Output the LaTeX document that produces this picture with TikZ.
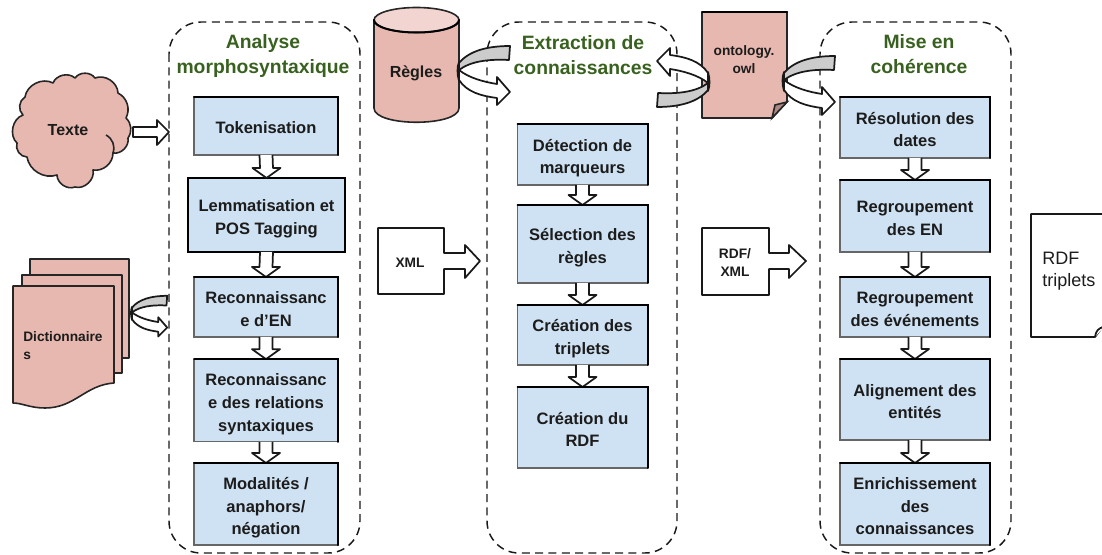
\documentclass[tikz,border=0pt]{standalone}
\usepackage{fontspec}
\setmainfont{Liberation Sans}
\usetikzlibrary{calc}
\definecolor{boxblue}{HTML}{CFE2F3}
\definecolor{boxpink}{HTML}{E6B8AF}
\definecolor{toppink}{HTML}{F2D5D0}
\definecolor{bandgray}{HTML}{CCCCCC}
\definecolor{titlegreen}{HTML}{38611F}
\definecolor{inkdark}{HTML}{1C1C1C}
\tikzset{
  bluebox/.style={draw=black!60,line width=0.9pt,fill=boxblue,align=center,font=\fontsize{12.4}{17}\selectfont\bfseries,text=inkdark,inner sep=0pt,outer sep=0pt,text depth=0pt},
  oneline/.style={text height=12pt},
  twolines/.style={text height=29pt},
  threelines/.style={text height=46pt},
  heavy/.style={line width=1.5pt,black,line cap=round},
  container/.style={draw=black!90,line width=1.1pt,dash pattern=on 6pt off 4pt,rounded corners=24pt},
  blockarrow/.style={draw=black!90,line width=1.3pt,fill=white,line join=round},
  titletext/.style={align=center,font=\fontsize{14.5}{18.8}\selectfont\bfseries,text=titlegreen,inner sep=0pt},
  pinkshape/.style={draw=black!85,line width=1.2pt,fill=boxpink,line join=round},
  whiteshape/.style={draw=black!90,line width=1.3pt,fill=white,line join=round},
  bandshape/.style={draw=black!90,line width=1.3pt,fill=bandgray,line join=round},
  smalltext/.style={align=center,font=\fontsize{10.3}{13.5}\selectfont\bfseries,text=inkdark,inner sep=0pt},
  midtext/.style={align=center,font=\fontsize{12}{15}\selectfont\bfseries,text=inkdark,inner sep=0pt},
}
\newcommand\blockdown[2]{%
  \draw[blockarrow] ($(#1.south)+(-6.5,0)$) -- ($(#2.north)+(-6.5,-10)$) -- ($(#2.north)+(-14,-10)$) -- (#2.north)
    -- ($(#2.north)+(14,-10)$) -- ($(#2.north)+(6.5,-10)$) -- ($(#1.south)+(6.5,0)$);}
% anchor coordinate, xscale, yscale
\newcommand\bentarrow[3]{%
  \begin{scope}[shift={(#1)},xscale=#2,yscale=#3]
    \draw[bandshape] (0,-5) .. controls (10,-17) and (28,-22) .. (51,-22) -- (50,-8) .. controls (30,-9) and (12,-7) .. (0,2) -- cycle;
    \draw[whiteshape] (0,2) .. controls (10,10) and (25,14) .. (38,16) -- (38,9) -- (51,24) -- (38,37) -- (38,30)
      .. controls (22,28) and (8,24) .. (0,12) -- cycle;
    \draw[draw=black!90,line width=1.3pt,line cap=round] (0,-6) .. controls (-2,-1) and (-2,6) .. (0,13);
  \end{scope}}
\newcommand\heavytr[1]{\draw[heavy] (#1.north west) -- (#1.north east) -- (#1.south east);}
\begin{document}
\begin{tikzpicture}[x=0.75pt,y=-0.75pt]
\useasboundingbox (0,0) rectangle (1102,555);
% containers
\draw[container] (169,22) rectangle (360,553);
\draw[container] (487,22) rectangle (677,553);
\draw[container] (820,22) rectangle (1011,553);
\node[titletext] (t1) at (263,56) {Analyse\\morphosyntaxique};
\node[titletext] (t2) at (583,55) {Extraction de\\connaissances};
\node[titletext] (t3) at (919,54.5) {Mise en\\cohérence};
% column 1
\node[bluebox,oneline,minimum width=108pt,minimum height=43.5pt] (a1) at (266,126) {Tokenisation};
\node[bluebox,twolines,minimum width=117.5pt,minimum height=55.5pt,line width=1.4pt,draw=black] (a2) at (266.5,215) {Lemmatisation et\\POS Tagging};
\node[bluebox,twolines,minimum width=108pt,minimum height=45pt] (a3) at (266,307) {Reconnaissanc\\e d’EN};
\node[bluebox,threelines,minimum width=108pt,minimum height=62pt] (a4) at (266,400.5) {Reconnaissanc\\e des relations\\syntaxiques};
\node[bluebox,threelines,minimum width=108pt,minimum height=61.5pt] (a5) at (266,504) {Modalités /\\anaphors/\\négation};
\blockdown{a1}{a2}\blockdown{a2}{a3}\blockdown{a3}{a4}\blockdown{a4}{a5}
% column 2
\node[bluebox,twolines,minimum width=97.5pt,minimum height=45.75pt] (b1) at (582.5,154.5) {Détection de\\marqueurs};
\node[bluebox,twolines,minimum width=97.5pt,minimum height=58.5pt] (b2) at (582.5,244) {Sélection des\\règles};
\node[bluebox,twolines,minimum width=97.5pt,minimum height=45pt] (b3) at (582.5,335) {Création des\\triplets};
\node[bluebox,twolines,minimum width=97.5pt,minimum height=60.75pt] (b4) at (582.5,427.5) {Création du\\RDF};
\blockdown{b1}{b2}\blockdown{b2}{b3}\blockdown{b3}{b4}
% column 3
\node[bluebox,twolines,minimum width=112.5pt,minimum height=45.75pt] (c1) at (915,127.5) {Résolution des\\dates};
\node[bluebox,twolines,minimum width=112.5pt,minimum height=54pt] (c2) at (915,216) {Regroupement\\des EN};
\node[bluebox,twolines,minimum width=112.5pt,minimum height=45pt] (c3) at (915,307) {Regroupement\\des événements};
\node[bluebox,twolines,minimum width=112.5pt,minimum height=60.75pt] (c4) at (915,399.5) {Alignement des\\entités};
\node[bluebox,threelines,minimum width=112.5pt,minimum height=61.5pt] (c5) at (915,504) {Enrichissement\\des\\connaissances};
\blockdown{c1}{c2}\blockdown{c2}{c3}\blockdown{c3}{c4}\blockdown{c4}{c5}
\foreach \n in {a1,a3,a4,a5,b1,b2,b3,b4,c1,c2,c3,c4,c5}{\heavytr{\n}}
% cloud
\draw[pinkshape] (23,115) to[bend left=55] (25,97) to[bend left=55] (53,83) to[bend left=55] (75,78) to[bend left=55] (95,78)
  to[bend left=55] (118,93) to[bend left=45] (126,118) to[bend left=40] (128,138) to[bend left=55] (113,153) to[bend left=50] (93,170)
  to[bend left=60] (75,187) to[bend left=55] (57,175) to[bend left=50] (27,157) to[bend left=55] (17,143) to[bend left=60] (23,115) -- cycle;
\draw[draw=black!85,line width=1.2pt] (106,135) to[bend left=40] (113,153);
\node[midtext] (texte) at (68,130) {Texte};
% dictionaries
\draw[pinkshape] (30,259) -- (129,259) -- (129,358) -- (30,358) -- cycle;
\draw[pinkshape] (22,275) -- (122,275) -- (122,373) -- (22,373) -- cycle;
\draw[pinkshape] (13,286) -- (114,286) -- (114,383) .. controls (85,385) and (75,408) .. (45,408) .. controls (30,408) and (22,403) .. (13,403) -- cycle;
\node[smalltext,align=left,anchor=north west] (dict) at (23,331) {Dictionnaire\\s};
% cylinder
\draw[pinkshape] (374,20) -- (374,108) .. controls (374,127) and (459,127) .. (459,108) -- (459,20) -- cycle;
\draw[draw=black!85,line width=1.2pt,fill=toppink] (416.5,20) ellipse (42.5 and 12.5);
\draw[heavy] (374,20) arc[start angle=180,end angle=0,x radius=42.5,y radius=12.5];
\node[midtext] (regles) at (416,73) {Règles};
% ontology page
\draw[pinkshape] (702,12) -- (787,12) -- (787,102) -- (772,118) -- (702,118) -- cycle;
\draw[draw=black!85,line width=1.2pt,fill=boxpink!75!black] (787,102) -- (775,105) -- (772,118) -- cycle;
\draw[heavy] (702,12) -- (787,12);
\node[smalltext] (onto) at (744,59.5) {ontology.\\owl};
% xml boxes
\draw[whiteshape] (378,228) -- (444,228) -- (444,253) -- (465,253) -- (465,245) -- (480,261) -- (465,278) -- (465,269) -- (444,269) -- (444,294) -- (378,294) -- cycle;
\node[smalltext] (xml) at (410,263) {XML};
\draw[whiteshape] (702,228) -- (769,228) -- (769,253) -- (789,253) -- (789,245) -- (806,261) -- (789,278) -- (789,269) -- (769,269) -- (769,295) -- (702,295) -- cycle;
\node[smalltext] (rdfxml) at (735,263) {RDF/\\XML};
% result page
\draw[whiteshape] (1104,214) -- (1031,214) -- (1031,337) -- (1095,337) -- (1104,325);
\draw[whiteshape] (1095,337) .. controls (1096,331) and (1098,328) .. (1104,327);
\node[align=left,font=\fontsize{13.5}{16.5}\selectfont,text=inkdark,inner sep=0pt,anchor=west] (rdft) at (1042,271.5) {RDF\\triplets};
% texte arrow
\coordinate (texttip) at (169,132);
\draw[blockarrow] (133,127) -- (157,127) -- (157,120) -- (texttip) -- (157,145) -- (157,137) -- (133,137) -- cycle;
% bent arrows
\coordinate (dictout) at (132,311);
\coordinate (regout) at (459,68);
\coordinate (ontoright) at (784,78);
\coordinate (ontoleft) at (708,85);
\bentarrow{dictout}{0.69}{0.69}
\bentarrow{regout}{1}{1}
\bentarrow{ontoright}{1}{1}
\bentarrow{ontoleft}{-1}{-1}
\end{tikzpicture}
\end{document}
